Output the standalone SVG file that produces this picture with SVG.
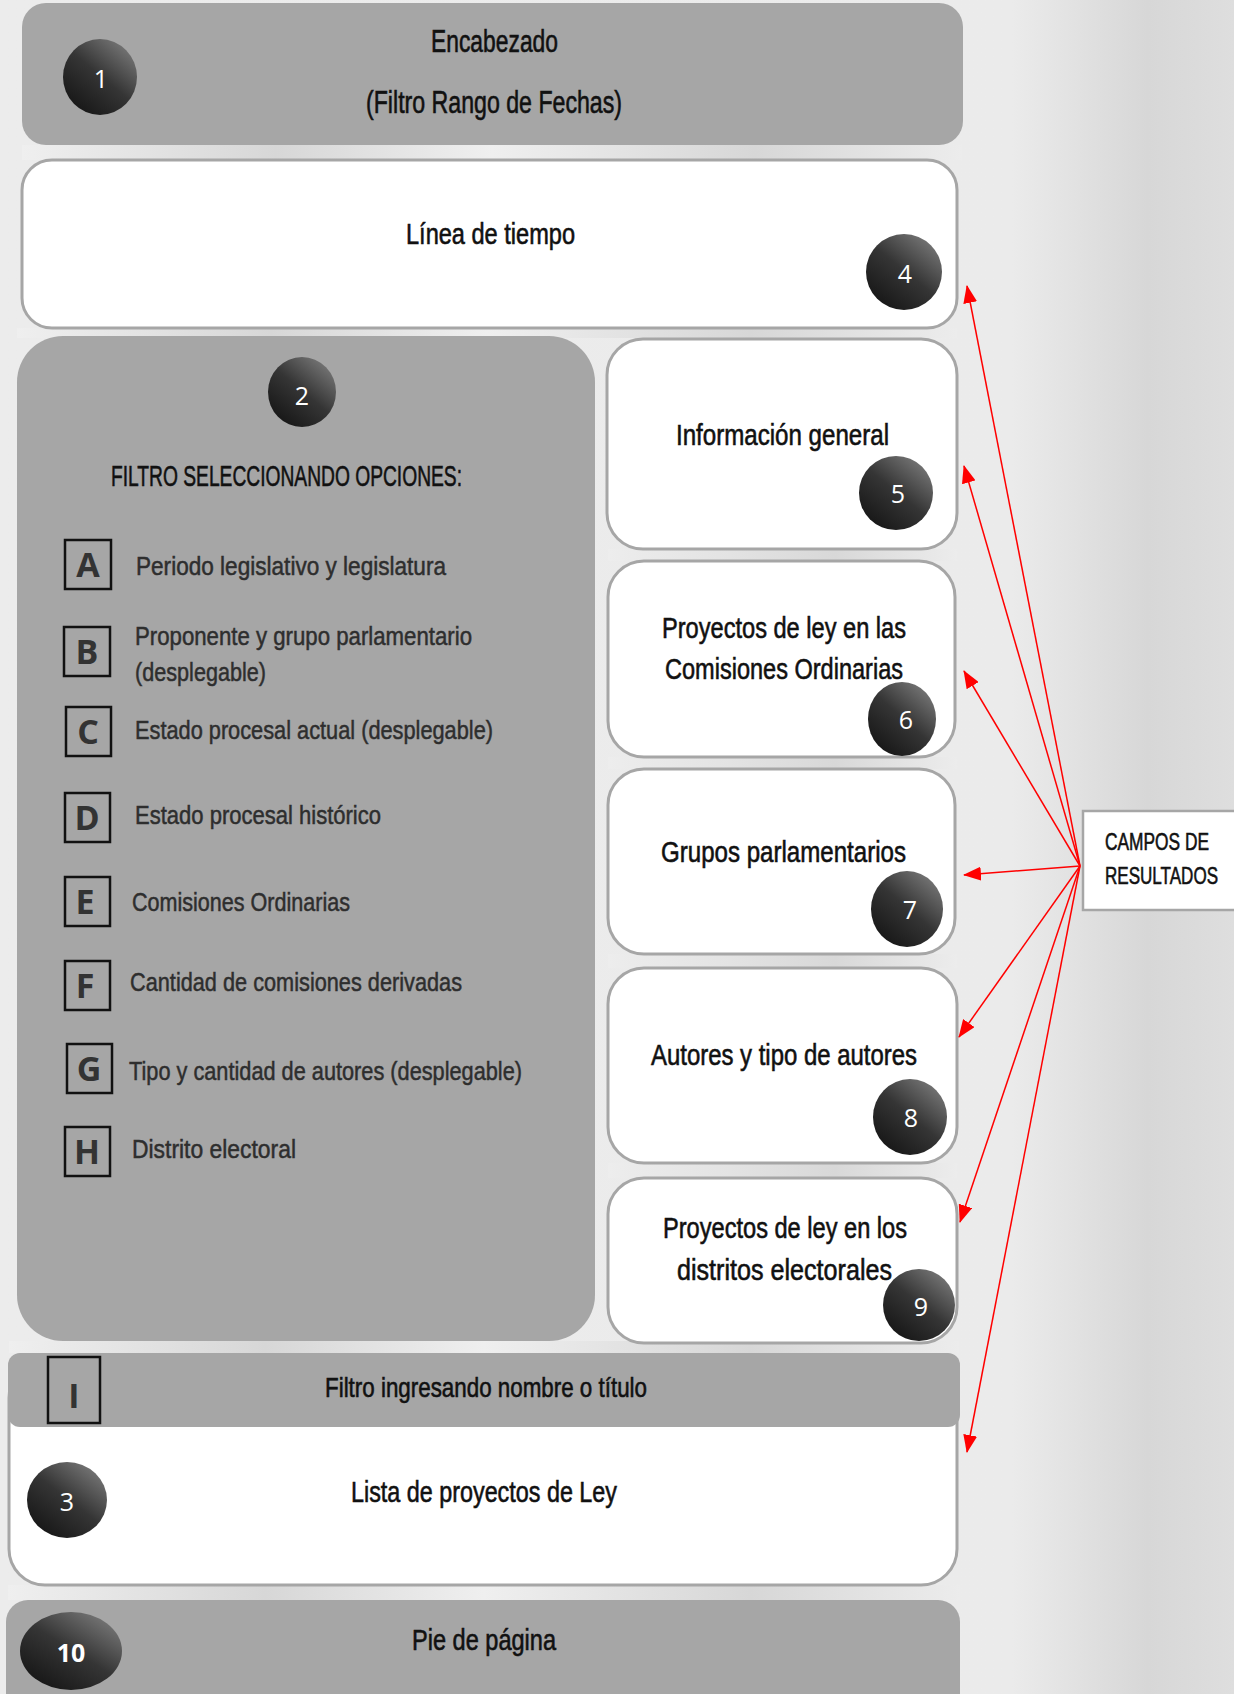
<svg xmlns="http://www.w3.org/2000/svg" width="1234" height="1694" viewBox="0 0 1234 1694">
<defs>
<linearGradient id="bg" x1="0" y1="0" x2="1" y2="0">
<stop offset="0" stop-color="#ececec"/><stop offset="0.82" stop-color="#ebebeb"/><stop offset="0.93" stop-color="#d7d7d7"/><stop offset="1" stop-color="#dedede"/>
</linearGradient>
<linearGradient id="gap" x1="0" y1="0" x2="1" y2="0">
<stop offset="0" stop-color="#efefef"/><stop offset="0.27" stop-color="#d7d7d7"/><stop offset="0.5" stop-color="#efefef"/><stop offset="0.78" stop-color="#d7d7d7"/><stop offset="1" stop-color="#ececec"/>
</linearGradient>
<linearGradient id="gap2" x1="0" y1="0" x2="1" y2="0">
<stop offset="0" stop-color="#ededed"/><stop offset="0.35" stop-color="#e3e3e3"/><stop offset="0.65" stop-color="#d8d8d8"/><stop offset="1" stop-color="#ececec"/>
</linearGradient>
<linearGradient id="ball" x1="0.85" y1="0.1" x2="0.2" y2="0.9">
<stop offset="0" stop-color="#747474"/><stop offset="0.5" stop-color="#353535"/><stop offset="1" stop-color="#191919"/>
</linearGradient>
<marker id="ah" markerUnits="userSpaceOnUse" markerWidth="18" markerHeight="14" viewBox="0 0 18 14" refX="17" refY="7" orient="auto">
<path d="M0,0 L18,7 L0,14 z" fill="#ff0000"/>
</marker>
</defs>
<style>
.t{font-family:"Liberation Sans Narrow","Liberation Sans",Arial,sans-serif;fill:#111;stroke:#111;stroke-width:0.6}
.it{font-family:"Liberation Sans Narrow","Liberation Sans",Arial,sans-serif;fill:#2e2e2e;stroke:#2e2e2e;stroke-width:0.5;font-size:26px}
.num{font-family:"Open Sans","Noto Sans",sans-serif;fill:#fff;font-size:25px;text-anchor:middle}
.lt{font-family:"Open Sans","Noto Sans",sans-serif;font-weight:700;fill:#333;font-size:34px;text-anchor:middle}
.lbox{fill:none;stroke:#111;stroke-width:2.5}
.gray{fill:#a6a6a6}
.white{fill:#fff;stroke:#a6a6a6;stroke-width:3}
.ball{fill:url(#ball)}
.conn line{stroke:#ff0000;stroke-width:1.5;marker-end:url(#ah)}
</style>
<rect x="0" y="0" width="1234" height="1694" fill="url(#bg)"/>
<g id="gaps">
<rect x="22" y="145" width="940" height="15" fill="url(#gap)"/>
<rect x="17" y="328" width="940" height="10" fill="url(#gap)"/>
<rect x="608" y="549" width="349" height="12" fill="url(#gap2)"/>
<rect x="608" y="757" width="349" height="12" fill="url(#gap2)"/>
<rect x="608" y="954" width="349" height="14" fill="url(#gap2)"/>
<rect x="608" y="1163" width="349" height="15" fill="url(#gap2)"/>
<rect x="9" y="1341" width="950" height="12" fill="url(#gap)"/>
<rect x="8" y="1585" width="952" height="15" fill="url(#gap)"/>
</g>
<g id="n1">
<rect class="gray" x="22" y="3" width="941" height="142" rx="24"/>
<ellipse class="ball" cx="100" cy="77" rx="37" ry="38"/>
<text class="num" x="101" y="88">1</text>
<text class="t" x="431" y="52" font-size="31" textLength="127" lengthAdjust="spacingAndGlyphs">Encabezado</text>
<text class="t" x="366" y="113" font-size="31" textLength="256" lengthAdjust="spacingAndGlyphs">(Filtro Rango de Fechas)</text>
</g>
<g id="n4">
<rect class="white" x="22" y="160" width="935" height="168" rx="30"/>
<text class="t" x="406" y="244" font-size="29" textLength="169" lengthAdjust="spacingAndGlyphs">Línea de tiempo</text>
<ellipse class="ball" cx="904" cy="272" rx="38" ry="38"/>
<text class="num" x="905" y="283">4</text>
</g>
<g id="n2">
<rect class="gray" x="17" y="336" width="578" height="1005" rx="46"/>
<ellipse class="ball" cx="302" cy="392" rx="34" ry="35"/>
<text class="num" x="302" y="405">2</text>
<text class="t" x="111" y="486" font-size="30" textLength="351" lengthAdjust="spacingAndGlyphs">FILTRO SELECCIONANDO OPCIONES:</text>
<rect class="lbox" x="65" y="540" width="46" height="49"/><text class="lt" x="88" y="577">A</text>
<text class="it" x="136" y="575" textLength="310" lengthAdjust="spacingAndGlyphs">Periodo legislativo y legislatura</text>
<rect class="lbox" x="64" y="627" width="46" height="49"/><text class="lt" x="87" y="664">B</text>
<text class="it" x="135" y="645" textLength="337" lengthAdjust="spacingAndGlyphs">Proponente y grupo parlamentario</text>
<text class="it" x="135" y="681" textLength="131" lengthAdjust="spacingAndGlyphs">(desplegable)</text>
<rect class="lbox" x="66" y="707" width="45" height="49"/><text class="lt" x="88" y="744">C</text>
<text class="it" x="135" y="739" textLength="358" lengthAdjust="spacingAndGlyphs">Estado procesal actual (desplegable)</text>
<rect class="lbox" x="65" y="793" width="45" height="49"/><text class="lt" x="87" y="830">D</text>
<text class="it" x="135" y="824" textLength="246" lengthAdjust="spacingAndGlyphs">Estado procesal histórico</text>
<rect class="lbox" x="65" y="877" width="45" height="49"/><text class="lt" x="85" y="914">E</text>
<text class="it" x="132" y="911" textLength="218" lengthAdjust="spacingAndGlyphs">Comisiones Ordinarias</text>
<rect class="lbox" x="65" y="961" width="45" height="49"/><text class="lt" x="85" y="998">F</text>
<text class="it" x="130" y="991" textLength="332" lengthAdjust="spacingAndGlyphs">Cantidad de comisiones derivadas</text>
<rect class="lbox" x="67" y="1044" width="45" height="49"/><text class="lt" x="89" y="1081">G</text>
<text class="it" x="129" y="1080" textLength="393" lengthAdjust="spacingAndGlyphs">Tipo y cantidad de autores (desplegable)</text>
<rect class="lbox" x="65" y="1127" width="45" height="49"/><text class="lt" x="87" y="1164">H</text>
<text class="it" x="132" y="1158" textLength="164" lengthAdjust="spacingAndGlyphs">Distrito electoral</text>
</g>
<g id="n5">
<rect class="white" x="607" y="339" width="350" height="210" rx="36"/>
<text class="t" x="676" y="445" font-size="30" textLength="213" lengthAdjust="spacingAndGlyphs">Información general</text>
<ellipse class="ball" cx="896" cy="493" rx="37" ry="37"/>
<text class="num" x="898" y="503">5</text>
</g>
<g id="n6">
<rect class="white" x="608" y="561" width="347" height="196" rx="36"/>
<text class="t" x="662" y="638" font-size="30" textLength="244" lengthAdjust="spacingAndGlyphs">Proyectos de ley en las</text>
<text class="t" x="665" y="679" font-size="30" textLength="238" lengthAdjust="spacingAndGlyphs">Comisiones Ordinarias</text>
<ellipse class="ball" cx="902" cy="719" rx="34" ry="37"/>
<text class="num" x="906" y="729">6</text>
</g>
<g id="n7">
<rect class="white" x="608" y="769" width="347" height="185" rx="36"/>
<text class="t" x="661" y="862" font-size="30" textLength="245" lengthAdjust="spacingAndGlyphs">Grupos parlamentarios</text>
<ellipse class="ball" cx="907" cy="909" rx="36" ry="38"/>
<text class="num" x="910" y="919">7</text>
</g>
<g id="n8">
<rect class="white" x="608" y="968" width="349" height="195" rx="36"/>
<text class="t" x="651" y="1065" font-size="30" textLength="266" lengthAdjust="spacingAndGlyphs">Autores y tipo de autores</text>
<ellipse class="ball" cx="910" cy="1117" rx="37" ry="38"/>
<text class="num" x="911" y="1127">8</text>
</g>
<g id="n9">
<rect class="white" x="608" y="1178" width="349" height="165" rx="36"/>
<text class="t" x="663" y="1238" font-size="30" textLength="244" lengthAdjust="spacingAndGlyphs">Proyectos de ley en los</text>
<text class="t" x="677" y="1280" font-size="30" textLength="215" lengthAdjust="spacingAndGlyphs">distritos electorales</text>
<ellipse class="ball" cx="919" cy="1305" rx="36" ry="36"/>
<text class="num" x="921" y="1316">9</text>
</g>
<g id="n3">
<rect class="white" x="9" y="1362" width="948" height="223" rx="36"/>
<text class="t" x="351" y="1502" font-size="30" textLength="266" lengthAdjust="spacingAndGlyphs">Lista de proyectos de Ley</text>
<ellipse class="ball" cx="67" cy="1500" rx="40" ry="38"/>
<text class="num" x="67" y="1511">3</text>
</g>
<g id="nI">
<rect class="gray" x="8" y="1353" width="952" height="74" rx="12"/>
<rect class="lbox" x="48" y="1357" width="52" height="66"/>
<text class="lt" x="74" y="1408" font-size="36">I</text>
<text class="t" x="325" y="1397" font-size="28" textLength="322" lengthAdjust="spacingAndGlyphs">Filtro ingresando nombre o título</text>
</g>
<g id="n10">
<rect class="gray" x="6" y="1600" width="954" height="120" rx="22"/>
<ellipse class="ball" cx="71" cy="1651" rx="51" ry="39"/>
<text class="num" x="71" y="1662" font-weight="700" font-size="24">10</text>
<text class="t" x="412" y="1650" font-size="29" textLength="144" lengthAdjust="spacingAndGlyphs">Pie de página</text>
</g>
<g id="campos">
<rect x="1083" y="811" width="153" height="99" fill="#fff" stroke="#a6a6a6" stroke-width="2.5"/>
<text class="t" x="1105" y="850" font-size="24" textLength="104" lengthAdjust="spacingAndGlyphs">CAMPOS DE</text>
<text class="t" x="1105" y="884" font-size="24" textLength="113" lengthAdjust="spacingAndGlyphs">RESULTADOS</text>
</g>
<g id="connectors" class="conn">
<line x1="1080" y1="866" x2="967" y2="286"/>
<line x1="1080" y1="866" x2="964" y2="466"/>
<line x1="1080" y1="866" x2="964" y2="671"/>
<line x1="1080" y1="866" x2="964" y2="875"/>
<line x1="1080" y1="866" x2="959" y2="1037"/>
<line x1="1080" y1="866" x2="960" y2="1222"/>
<line x1="1080" y1="866" x2="967" y2="1452"/>
</g>
</svg>
